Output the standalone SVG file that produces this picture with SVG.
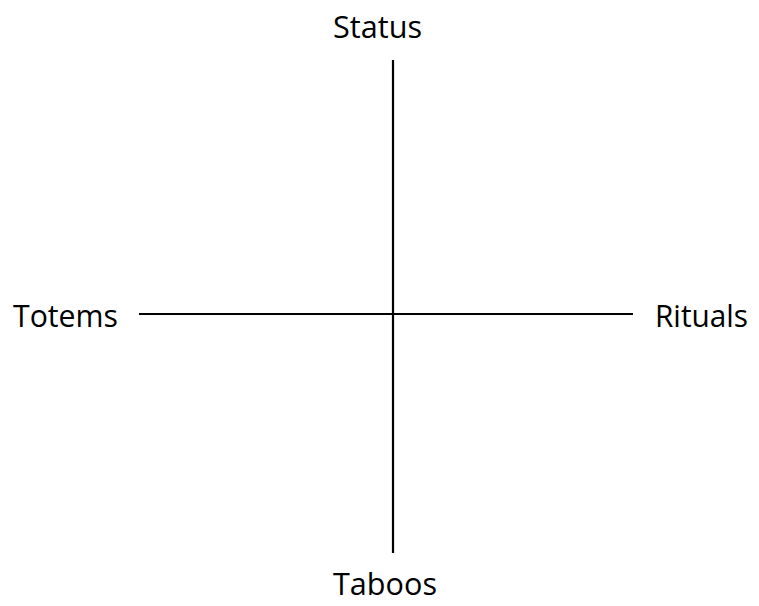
<svg xmlns="http://www.w3.org/2000/svg" width="759" height="606" viewBox="0 0 759 606">
<style>
.lbl{font-family:"Open Sans","Noto Sans","Liberation Sans",sans-serif;font-size:31px;fill:#000}
.ax{stroke:#000;stroke-width:2.2;fill:none}
</style>
<rect width="759" height="606" fill="#fff"/>
<g id="connectors">
<line class="ax" x1="393" y1="60" x2="393" y2="553"/>
<line class="ax" x1="139" y1="314" x2="633" y2="314"/>
</g>
<g id="status"><text class="lbl" x="333" y="38" textLength="89" lengthAdjust="spacingAndGlyphs">Status</text></g>
<g id="totems"><text class="lbl" x="13" y="327" textLength="105" lengthAdjust="spacingAndGlyphs">Totems</text></g>
<g id="rituals"><text class="lbl" x="655" y="327" textLength="93" lengthAdjust="spacingAndGlyphs">Rituals</text></g>
<g id="taboos"><text class="lbl" x="333" y="595" textLength="104" lengthAdjust="spacingAndGlyphs">Taboos</text></g>
</svg>
